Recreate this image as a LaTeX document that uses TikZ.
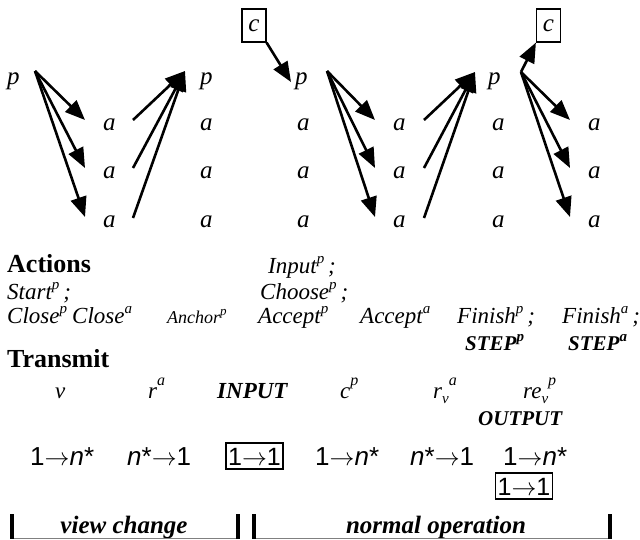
\documentclass[tikz,border=0pt]{standalone}
\usepackage{fontspec}
\setmainfont{Liberation Serif}
\newfontfamily\arial{Liberation Sans}
\usetikzlibrary{arrows.meta}

\newcommand\fs[1]{\fontsize{#1}{#1}\selectfont}
% superscript / subscript tags on italic labels
\newcommand\up[1]{\raisebox{0.42em}{\fs{15}#1}}
\newcommand\uphi[1]{\raisebox{0.55em}{\fs{16}#1}}
\newcommand\upsm[1]{\raisebox{0.4em}{\fs{13}#1}}
\newcommand\dn[1]{\raisebox{-0.25em}{\fs{15}#1}}

\tikzset{
  role/.style={inner sep=0pt, anchor=base west, font=\fs{25}\itshape},
  lbl/.style={inner sep=0pt, anchor=base west, font=\fs{23}\itshape},
  head/.style={inner sep=0pt, anchor=base west, font=\fs{26}\bfseries},
  kw/.style={inner sep=0pt, anchor=base west, font=\fs{21}\bfseries\itshape},
  flow/.style={inner sep=0pt, anchor=base west, font=\arial\fs{26}},
  flowbox/.style={draw, line width=1.2pt, font=\arial\fs{25}, inner xsep=2pt,
    inner ysep=4pt, text height=18pt, text depth=0pt, minimum width=57pt},
  cbox/.style={draw, line width=1.2pt, minimum width=24pt, minimum height=33pt,
    inner sep=0pt, font=\fs{25}\itshape},
  phase/.style={inner sep=0pt, anchor=base, font=\fs{25}\bfseries\itshape},
  msg/.style={line width=2.6pt, -{Triangle[length=20pt,width=16pt]}},
  bar/.style={line width=4pt},
  rule/.style={draw=gray, line width=1pt},
}

\begin{document}
\begin{tikzpicture}[x=1pt,y=-1pt]
\useasboundingbox (0,0) rectangle (640,539);

% ---- processes p and acceptors a ----
\node[role] (p1) at (7,84) {p};
\node[role] (p2) at (200,84) {p};
\node[role] (p3) at (295,84) {p};
\node[role] (p4) at (488,84) {p};
\foreach \x [count=\i] in {103,200,297,393,492,588}
  \foreach \y [count=\j] in {130,178,227}
    \node[role] (a\i\j) at (\x,\y) {a};

\node[cbox] (c1) at (254,25.5) {c};
\node[cbox] (c2) at (548.5,25.5) {c};

% ---- message fans ----
\coordinate (h1) at (35,71);
\coordinate (t11) at (85,120);
\coordinate (t12) at (85,168);
\coordinate (t13) at (85,217);
\foreach \k in {1,2,3} \draw[msg] (h1) -- (t1\k);

\coordinate (h2) at (185,71);
\coordinate (s21) at (133,120);
\coordinate (s22) at (133,168);
\coordinate (s23) at (133,218);
\foreach \k in {1,2,3} \draw[msg] (s2\k) -- (h2);

\coordinate (cp) at (291,82);
\draw[msg] (c1.south east) -- (cp);

\coordinate (h3) at (327,71);
\coordinate (t31) at (375,120);
\coordinate (t32) at (375,168);
\coordinate (t33) at (375,217);
\foreach \k in {1,2,3} \draw[msg] (h3) -- (t3\k);

\coordinate (h4) at (475,72);
\coordinate (s41) at (424,120);
\coordinate (s42) at (424,168);
\coordinate (s43) at (424,218);
\foreach \k in {1,2,3} \draw[msg] (s4\k) -- (h4);

\coordinate (h5) at (521,72);
\coordinate (t51) at (570,120);
\coordinate (t52) at (570,168);
\coordinate (t53) at (570,217);
\foreach \k in {1,2,3} \draw[msg] (h5) -- (t5\k);
\draw[msg] (h5) -- (c2.south west);

% ---- actions ----
\node[head] (act) at (7,272) {Actions};
\node[lbl] (inp) at (268,273) {Input\up{p}\,;};
\node[lbl] (sta) at (7,299) {Start\up{p}\,;};
\node[lbl] (cho) at (260,299) {Choose\up{p}\,;};
\node[lbl] (clp) at (7,323) {Close\up{p}};
\node[lbl] (cla) at (72,323) {Close\up{a}};
\node[lbl, font=\fs{18}\itshape] (anc) at (167,323) {Anchor\upsm{p}};
\node[lbl] (acp) at (258,323) {Accept\up{p}};
\node[lbl] (aca) at (360,323) {Accept\up{a}};
\node[lbl] (fip) at (457,323) {Finish\up{p}\,;};
\node[lbl] (fia) at (562,323) {Finish\up{a}\,;};
\node[kw] (stp) at (465,350) {STEP\up{p}};
\node[kw] (sta2) at (568,350) {STEP\up{a}};

% ---- transmitted messages ----
\node[head] (trm) at (7,367) {Transmit};
\node[lbl] (mv) at (55,398) {v};
\node[lbl] (mr) at (148,398) {r\uphi{a}};
\node[kw, font=\fs{23}\bfseries\itshape] (min) at (217,398) {INPUT};
\node[lbl] (mc) at (340,398) {c\uphi{p}};
\node[lbl] (mrv) at (433,398) {r\dn{v}\uphi{a}};
\node[lbl] (mrev) at (523,398) {re\dn{v}\uphi{p}};
\node[kw] (mout) at (478,425) {OUTPUT};

% ---- communication patterns ----
\node[flow] (f1) at (30,465) {1$\rightarrow$\textit{n}*};
\node[flow] (f2) at (127,465) {\textit{n}*$\rightarrow$1};
\node[flowbox] (f3) at (254.5,456) {1$\rightarrow$1};
\node[flow] (f4) at (315,465) {1$\rightarrow$\textit{n}*};
\node[flow] (f5) at (410,465) {\textit{n}*$\rightarrow$1};
\node[flow] (f6) at (503,465) {1$\rightarrow$\textit{n}*};
\node[flowbox] (f7) at (524,486) {1$\rightarrow$1};

% ---- phases ----
\node[phase] (vc) at (124,533) {view change};
\node[phase] (no) at (436,533) {normal operation};
\draw[rule] (12,538) -- (238,538);
\draw[rule] (254,538) -- (610,538);
\draw[bar] (12,514) -- (12,539);
\draw[bar] (238,514) -- (238,539);
\draw[bar] (254,514) -- (254,539);
\draw[bar] (610,514) -- (610,539);
\end{tikzpicture}
\end{document}
